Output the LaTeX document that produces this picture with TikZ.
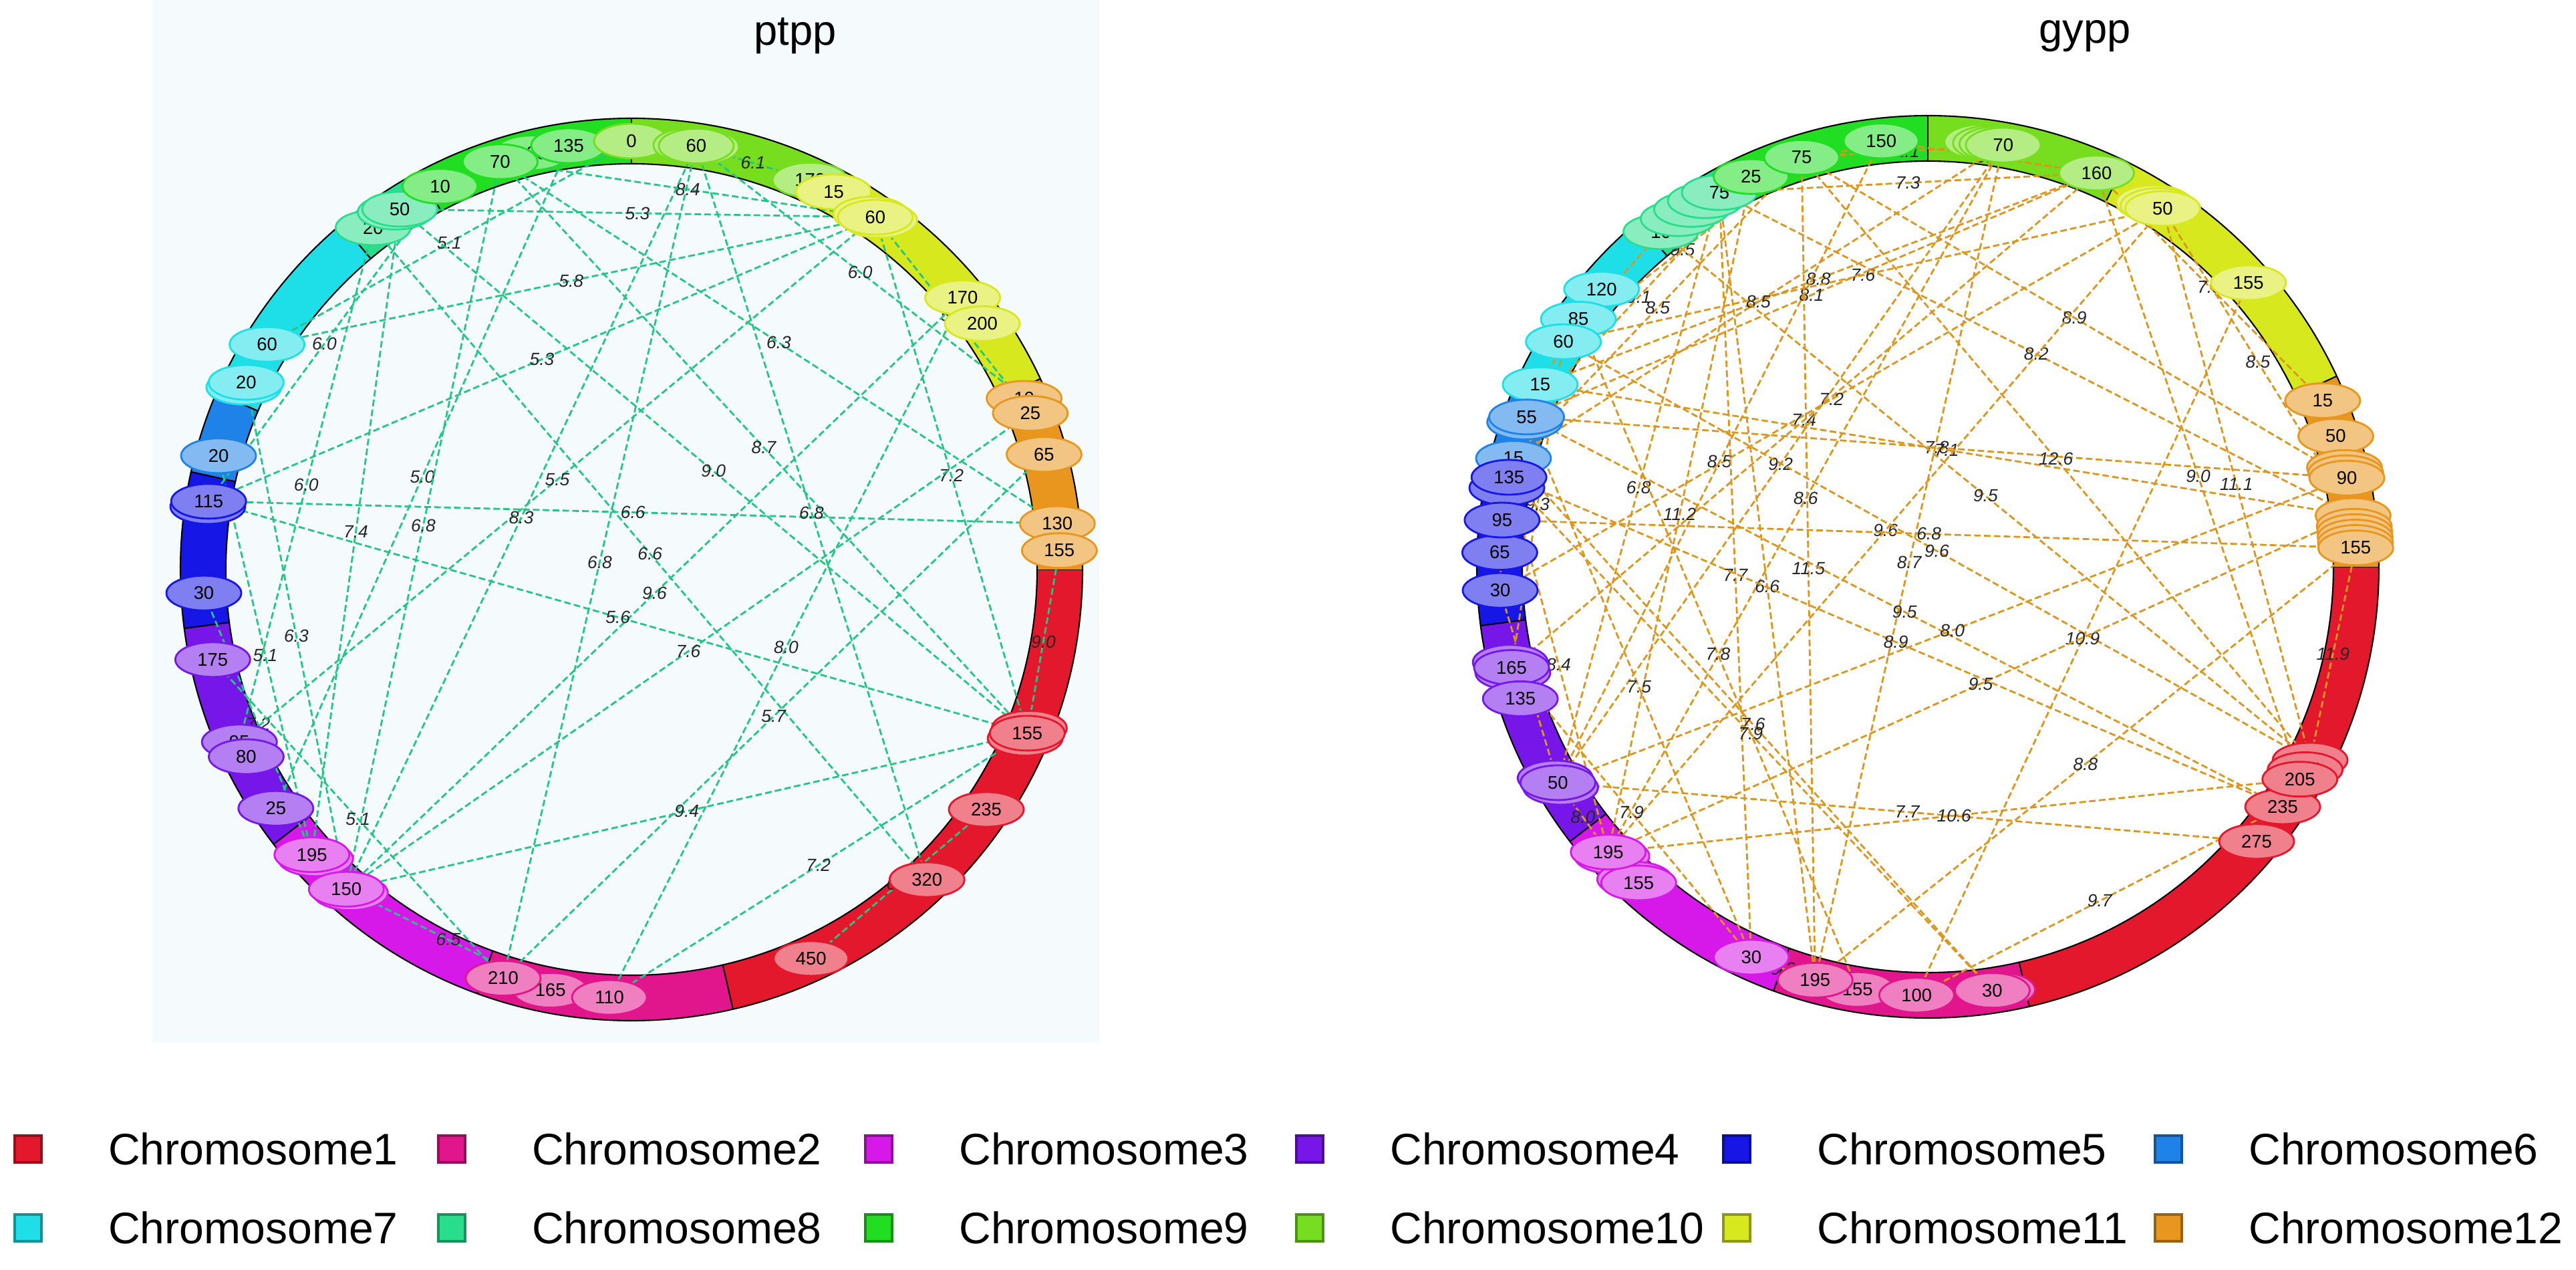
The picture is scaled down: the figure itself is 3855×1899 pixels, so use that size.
\documentclass[tikz,border=0pt]{standalone}
\usepackage{fontspec}
\setmainfont{Liberation Sans}
\usetikzlibrary{shapes.geometric,positioning}

% chromosome colours
\definecolor{c1}{RGB}{228,24,44}
\definecolor{c2}{RGB}{226,22,140}
\definecolor{c3}{RGB}{214,24,232}
\definecolor{c4}{RGB}{118,22,232}
\definecolor{c5}{RGB}{22,22,230}
\definecolor{c6}{RGB}{30,130,232}
\definecolor{c7}{RGB}{30,222,232}
\definecolor{c8}{RGB}{40,222,140}
\definecolor{c9}{RGB}{34,222,34}
\definecolor{c10}{RGB}{118,222,30}
\definecolor{c11}{RGB}{216,232,30}
\definecolor{c12}{RGB}{232,150,30}
\definecolor{linkA}{RGB}{36,198,132}
\definecolor{linkB}{RGB}{220,150,30}
\definecolor{paleA}{RGB}{245,251,253}

\pgfdeclarelayer{ringlayer}
\pgfdeclarelayer{linklayer}
\pgfsetlayers{ringlayer,linklayer,main}

\newcommand{\chrstart}[1]{\ifcase#1\or0\or-77\or-110\or-142.5\or-172.5\or-192.5\or-203\or-230\or-242\or-270\or-296\or-335\fi}

% marker: plot, chromosome, position, text
\newcommand{\mk}[4]{%
  \edef\mkstart{\chrstart{#2}}%
  \pgfmathsetmacro\mkang{\mkstart-#3/6.9}%
  \node[qtl=c#2] (#1#2-#3) at (\mkang:641) {#4};}

% link between two markers
\newcounter{lbl}
\newcommand{\lk}[3]{\stepcounter{lbl}\draw[lnk] (#1) -- node[lab] (lb\arabic{lbl}) {#3} (#2);}

% coloured ring
\newcommand{\chrring}{%
  \foreach \s/\e/\i in {0/-77/1,-77/-110/2,-110/-142.5/3,-142.5/-172.5/4,-172.5/-192.5/5,-192.5/-203/6,-203/-230/7,-230/-242/8,-242/-270/9,-270/-296/10,-296/-335/11,-335/-360/12}{
    \fill[c\i] (\s:675) arc[start angle=\s, end angle=\e, radius=675] -- (\e:607) arc[start angle=\e, end angle=\s, radius=607] -- cycle;
    \draw[line width=0.6pt] (\s:607) -- (\s:675);
  }
  \draw[line width=0.6pt] (0,0) circle[radius=607] (0,0) circle[radius=675];}

\begin{document}
\begin{tikzpicture}[x=0.1mm, y=0.1mm,
  qtl/.style={ellipse, draw=#1, fill=#1!55!white, line width=0.8pt, minimum width=11.2mm, minimum height=5.2mm, inner sep=0pt, font=\fontsize{7.8}{8}\selectfont},
  lab/.style={font=\itshape\fontsize{7.5}{8}\selectfont, text=black!85, inner sep=0.5pt},
  key/.style={draw=#1!65!black, fill=#1, line width=0.9pt, minimum size=4mm, inner sep=0pt},
  keytext/.style={font=\fontsize{18.8}{20}\selectfont, inner sep=0pt, anchor=west},
  title/.style={font=\fontsize{18}{20}\selectfont}]

\useasboundingbox (0,0) rectangle (3855,1899);
\begin{pgfonlayer}{ringlayer}
  \fill[white] (0,0) rectangle (3855,1899);
  \fill[paleA] (228,339) rectangle (1645,1899);
\end{pgfonlayer}

% titles
\node[title] (ptpp) at (1190,1845) {ptpp};
\node[title] (gypp) at (3120,1845) {gypp};

% ptpp
\begin{scope}[shift={(945,1047)}, lnk/.style={draw=linkA, line width=0.8pt, dash pattern=on 2.8pt off 1.4pt}]
  \begin{pgfonlayer}{ringlayer}\chrring\end{pgfonlayer}
  \mk{a}{1}{150}{155}\mk{a}{1}{160}{155}\mk{a}{1}{155}{155}
  \mk{a}{1}{235}{235}\mk{a}{1}{320}{320}\mk{a}{1}{450}{450}
  \mk{a}{2}{165}{165}\mk{a}{2}{210}{210}\mk{a}{2}{110}{110}
  \mk{a}{3}{190}{190}\mk{a}{3}{145}{145}\mk{a}{3}{195}{195}\mk{a}{3}{150}{150}
  \mk{a}{4}{25}{25}\mk{a}{4}{95}{95}\mk{a}{4}{80}{80}\mk{a}{4}{175}{175}
  \mk{a}{5}{110}{115}\mk{a}{5}{115}{115}\mk{a}{5}{30}{30}
  \mk{a}{6}{20}{20}
  \mk{a}{7}{15}{20}\mk{a}{7}{20}{20}\mk{a}{7}{60}{60}
  \mk{a}{8}{20}{20}\mk{a}{8}{45}{50}\mk{a}{8}{50}{50}
  \mk{a}{9}{10}{10}\mk{a}{9}{100}{100}\mk{a}{9}{135}{135}\mk{a}{9}{70}{70}
  \mk{a}{10}{0}{0}\mk{a}{10}{55}{60}\mk{a}{10}{65}{60}\mk{a}{10}{60}{60}\mk{a}{10}{170}{170}
  \mk{a}{11}{15}{15}\mk{a}{11}{55}{60}\mk{a}{11}{65}{60}\mk{a}{11}{60}{60}\mk{a}{11}{170}{170}\mk{a}{11}{200}{200}
  \mk{a}{12}{10}{10}\mk{a}{12}{25}{25}\mk{a}{12}{65}{65}\mk{a}{12}{130}{130}\mk{a}{12}{155}{155}
  \begin{pgfonlayer}{linklayer}
  \lk{a9-70}{a11-60}{8.4}
  \lk{a8-50}{a11-60}{5.3}
  \lk{a7-60}{a10-0}{5.1}
  \lk{a7-60}{a11-60}{5.8}
  \lk{a10-60}{a12-10}{6.0}
  \lk{a11-60}{a12-25}{5.5}
  \lk{a5-115}{a9-10}{6.0}
  \lk{a5-115}{a11-60}{5.3}
  \lk{a9-70}{a12-130}{6.3}
  \lk{a9-70}{a1-155}{8.7}
  \lk{a11-60}{a1-155}{7.2}
  \lk{a4-95}{a8-20}{6.0}
  \lk{a4-25}{a9-135}{5.0}
  \lk{a4-95}{a11-60}{5.5}
  \lk{a8-50}{a1-155}{9.0}
  \lk{a3-195}{a8-50}{7.4}
  \lk{a3-150}{a9-70}{6.8}
  \lk{a3-150}{a10-60}{8.3}
  \lk{a5-115}{a12-130}{6.6}
  \lk{a10-60}{a1-320}{6.8}
  \lk{a2-210}{a10-60}{6.8}
  \lk{a8-20}{a1-320}{6.6}
  \lk{a3-150}{a11-170}{9.6}
  \lk{a5-115}{a1-155}{5.6}
  \lk{a3-195}{a6-20}{5.1}
  \lk{a3-150}{a7-20}{6.3}
  \lk{a3-150}{a12-25}{7.6}
  \lk{a2-110}{a11-170}{8.0}
  \lk{a12-155}{a1-155}{9.0}
  \lk{a3-195}{a5-30}{7.2}
  \lk{a2-210}{a12-65}{5.7}
  \lk{a2-210}{a4-175}{5.1}
  \lk{a1-155}{a3-150}{9.4}
  \lk{a1-155}{a2-110}{7.2}
  \lk{a1-235}{a1-450}{6.8}
  \lk{a2-165}{a3-150}{6.5}
  \lk{a2-110}{a2-165}{7.3}
  \lk{a9-70}{a9-135}{5.2}
  \lk{a10-170}{a11-15}{5.9}
  \lk{a10-60}{a10-170}{6.1}
  \end{pgfonlayer}
\end{scope}

% gypp
\begin{scope}[shift={(2885,1051)}, lnk/.style={draw=linkB, line width=0.8pt, dash pattern=on 2.8pt off 1.4pt}]
  \begin{pgfonlayer}{ringlayer}\chrring\end{pgfonlayer}
  \mk{b}{1}{275}{275}\mk{b}{1}{235}{235}\mk{b}{1}{185}{185}\mk{b}{1}{195}{195}\mk{b}{1}{205}{205}
  \mk{b}{2}{155}{155}\mk{b}{2}{195}{195}\mk{b}{2}{100}{100}\mk{b}{2}{25}{30}\mk{b}{2}{30}{30}
  \mk{b}{3}{190}{190}\mk{b}{3}{160}{160}\mk{b}{3}{155}{155}\mk{b}{3}{195}{195}\mk{b}{3}{30}{30}
  \mk{b}{4}{45}{50}\mk{b}{4}{55}{50}\mk{b}{4}{50}{50}\mk{b}{4}{160}{165}\mk{b}{4}{170}{165}\mk{b}{4}{165}{165}\mk{b}{4}{135}{135}
  \mk{b}{7}{120}{120}\mk{b}{7}{85}{85}\mk{b}{7}{60}{60}\mk{b}{7}{15}{15}
  \mk{b}{6}{15}{15}\mk{b}{6}{50}{55}\mk{b}{6}{55}{55}
  \mk{b}{5}{125}{125}\mk{b}{5}{135}{135}\mk{b}{5}{65}{65}\mk{b}{5}{95}{95}\mk{b}{5}{30}{30}
  \mk{b}{8}{10}{10}\mk{b}{8}{30}{75}\mk{b}{8}{45}{75}\mk{b}{8}{60}{75}\mk{b}{8}{75}{75}
  \mk{b}{9}{25}{25}\mk{b}{9}{75}{75}\mk{b}{9}{150}{150}
  \mk{b}{10}{50}{70}\mk{b}{10}{58}{70}\mk{b}{10}{64}{70}\mk{b}{10}{70}{70}\mk{b}{10}{160}{160}
  \mk{b}{11}{40}{50}\mk{b}{11}{45}{50}\mk{b}{11}{50}{50}\mk{b}{11}{155}{155}
  \mk{b}{12}{15}{15}\mk{b}{12}{50}{50}\mk{b}{12}{80}{90}\mk{b}{12}{85}{90}\mk{b}{12}{90}{90}
  \mk{b}{12}{125}{125}\mk{b}{12}{135}{135}\mk{b}{12}{140}{140}\mk{b}{12}{145}{145}\mk{b}{12}{150}{150}\mk{b}{12}{155}{155}
  \begin{pgfonlayer}{linklayer}
  \lk{b9-75}{b10-70}{12.1}
  \lk{b9-25}{b9-150}{6.9}
  \lk{b8-75}{b9-75}{9.0}
  \lk{b9-150}{b10-160}{9.6}
  \lk{b8-75}{b10-160}{7.3}
  \lk{b7-60}{b9-75}{9.5}
  \lk{b7-15}{b10-160}{8.8}
  \lk{b7-60}{b11-50}{7.6}
  \lk{b6-55}{b10-160}{8.1}
  \lk{b6-15}{b10-70}{8.5}
  \lk{b6-15}{b9-75}{8.5}
  \lk{b6-55}{b9-25}{9.1}
  \lk{b7-60}{b8-10}{9.4}
  \lk{b10-160}{b12-15}{7.3}
  \lk{b9-75}{b12-90}{8.9}
  \lk{b8-75}{b12-125}{8.2}
  \lk{b11-50}{b12-125}{8.5}
  \lk{b5-30}{b11-50}{7.2}
  \lk{b4-165}{b10-160}{7.4}
  \lk{b6-55}{b12-90}{7.8}
  \lk{b7-15}{b12-125}{7.1}
  \lk{b9-75}{b1-185}{12.6}
  \lk{b10-160}{b1-205}{9.0}
  \lk{b11-50}{b1-185}{11.1}
  \lk{b4-50}{b9-150}{8.5}
  \lk{b4-50}{b10-70}{9.2}
  \lk{b4-50}{b8-75}{6.8}
  \lk{b3-195}{b9-25}{11.2}
  \lk{b3-195}{b10-70}{8.6}
  \lk{b3-195}{b11-50}{9.6}
  \lk{b8-10}{b1-185}{9.5}
  \lk{b5-95}{b12-155}{6.8}
  \lk{b7-60}{b1-185}{9.6}
  \lk{b2-195}{b10-70}{8.7}
  \lk{b4-165}{b7-60}{9.3}
  \lk{b5-30}{b5-95}{5.6}
  \lk{b3-30}{b8-75}{7.7}
  \lk{b2-195}{b8-75}{6.6}
  \lk{b2-195}{b9-75}{11.5}
  \lk{b6-55}{b1-235}{9.5}
  \lk{b5-135}{b1-235}{8.9}
  \lk{b12-90}{b4-50}{8.0}
  \lk{b11-155}{b2-100}{10.9}
  \lk{b3-195}{b5-135}{8.4}
  \lk{b4-50}{b5-30}{8.0}
  \lk{b2-155}{b7-85}{7.8}
  \lk{b3-30}{b6-55}{7.5}
  \lk{b3-195}{b12-125}{9.5}
  \lk{b2-30}{b6-15}{7.6}
  \lk{b2-30}{b5-135}{7.9}
  \lk{b12-155}{b1-185}{11.9}
  \lk{b12-155}{b2-195}{8.8}
  \lk{b3-30}{b4-165}{7.9}
  \lk{b1-275}{b4-50}{7.7}
  \lk{b1-205}{b3-195}{10.6}
  \lk{b1-235}{b2-100}{9.7}
  \lk{b2-100}{b2-195}{9.7}
  \lk{b2-195}{b3-30}{9.3}
  \lk{b4-50}{b3-195}{8.0}
  \lk{b6-55}{b7-60}{6.4}
  \end{pgfonlayer}
\end{scope}

% legend
\foreach \i/\x/\y in {1/42/180,2/676/180,3/1315/180,4/1960/180,5/2599/180,6/3245/180,7/42/62,8/676/62,9/1315/62,10/1960/62,11/2599/62,12/3245/62}{
  \node[key=c\i] (k\i) at (\x,\y) {};
  \node[keytext, right=9.8mm of k\i] (kt\i) {Chromosome\i};
}
\end{tikzpicture}
\end{document}
